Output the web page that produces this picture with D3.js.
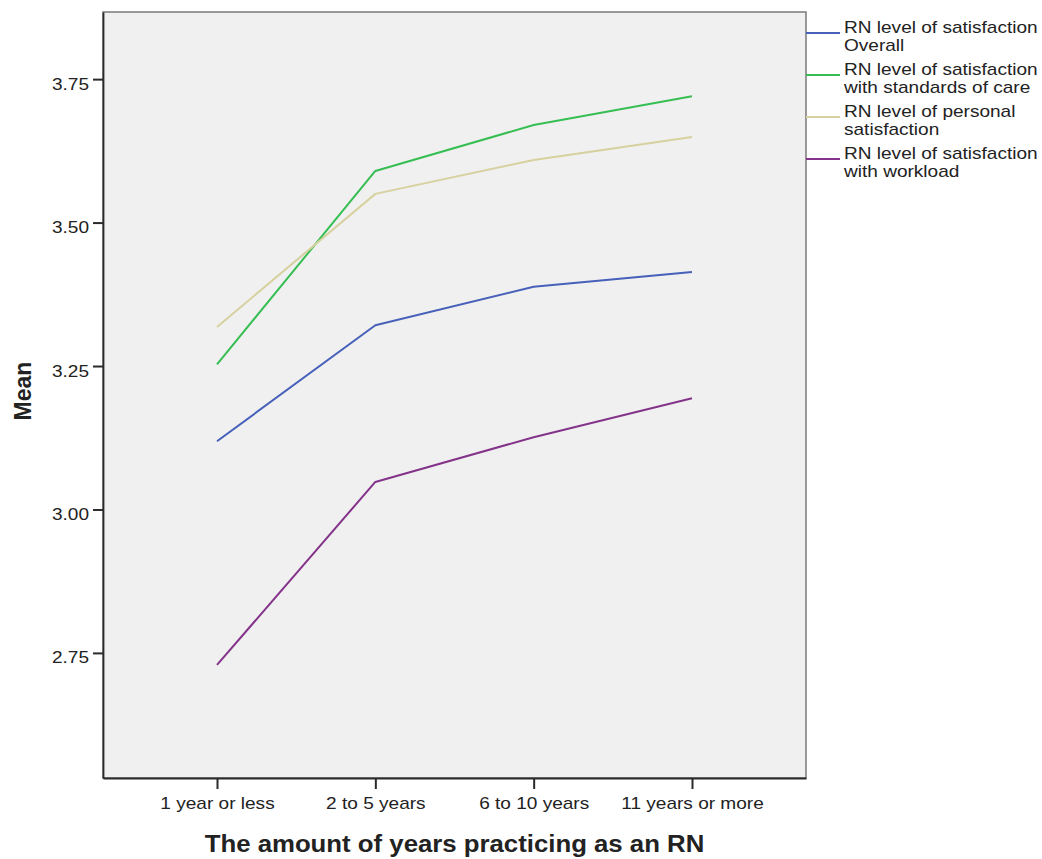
<!DOCTYPE html>
<html>
<head>
<meta charset="utf-8">
<script src="https://cdn.jsdelivr.net/npm/d3@7"></script>
<style>
  html, body { margin: 0; padding: 0; background: #ffffff; }
  svg { display: block; }
  text { font-family: "Liberation Sans", Arial, sans-serif; fill: #222; }
</style>
</head>
<body>
<svg id="chart" width="1042" height="859"></svg>
<script>
const categories = ["1 year or less", "2 to 5 years", "6 to 10 years", "11 years or more"];
const seriesNames = [
  ["RN level of satisfaction", "Overall"],
  ["RN level of satisfaction", "with standards of care"],
  ["RN level of personal", "satisfaction"],
  ["RN level of satisfaction", "with workload"]
];
const overall   = [3.119, 3.321, 3.388, 3.414];
const standards = [3.253, 3.590, 3.670, 3.720];
const personal  = [3.318, 3.550, 3.609, 3.649];
const workload  = [2.729, 3.048, 3.126, 3.194];
const seriesColors = ["#4760BA", "#36BE52", "#D6D19E", "#84338A"];
const yTicks = [2.75, 3.00, 3.25, 3.50, 3.75];
const yDomain = [2.532, 3.867];
const xTitle = "The amount of years practicing as an RN";
const yTitle = "Mean";

const series = [overall, standards, personal, workload];

const svg = d3.select("#chart");
const plot = { left: 103, right: 806, top: 12, bottom: 778 };
const STRETCH = 1.12;

function stretch(sel) {
  sel.each(function () {
    const len = this.getComputedTextLength();
    d3.select(this).attr("textLength", len * STRETCH).attr("lengthAdjust", "spacingAndGlyphs");
  });
}

const x = d3.scalePoint().domain(categories).range([plot.left, plot.right]).padding(0.72);
const y = d3.scaleLinear().domain(yDomain).range([plot.bottom, plot.top]);

// plot background + frame
svg.append("rect")
  .attr("x", plot.left).attr("y", plot.top)
  .attr("width", plot.right - plot.left).attr("height", plot.bottom - plot.top)
  .attr("fill", "#F0F0F0").attr("stroke", "#7a7a7a").attr("stroke-width", 1.5);

// lines
const line = d3.line().x((d, i) => x(categories[i])).y(d => y(d));
series.forEach((vals, k) => {
  svg.append("path").datum(vals)
    .attr("d", line)
    .attr("fill", "none")
    .attr("stroke", seriesColors[k])
    .attr("stroke-width", 2)
    .attr("stroke-linejoin", "round");
});

// y axis
const yAxis = svg.append("g").attr("transform", `translate(${plot.left},0)`)
  .call(d3.axisLeft(y).tickValues(yTicks).tickFormat(d3.format(".2f")).tickSize(10).tickPadding(4).tickSizeOuter(0));
yAxis.select(".domain").attr("stroke", "#2a2a2a").attr("stroke-width", 1.8);
yAxis.selectAll(".tick line").attr("stroke", "#2a2a2a").attr("stroke-width", 2);
yAxis.selectAll(".tick text").attr("font-size", 17).attr("dy", "0.59em")
  .attr("font-family", "Liberation Sans, Arial, sans-serif").attr("fill", "#222").call(stretch);

// x axis
const xAxis = svg.append("g").attr("transform", `translate(0,${plot.bottom})`)
  .call(d3.axisBottom(x).tickSize(11).tickPadding(8).tickSizeOuter(0));
xAxis.select(".domain").attr("stroke", "#2a2a2a").attr("stroke-width", 1.8);
xAxis.selectAll(".tick line").attr("stroke", "#2a2a2a").attr("stroke-width", 2);
xAxis.selectAll(".tick text").attr("font-size", 17)
  .attr("font-family", "Liberation Sans, Arial, sans-serif").attr("fill", "#222").call(stretch);

// axis titles
svg.append("text")
  .attr("x", (plot.left + plot.right) / 2).attr("y", 852)
  .attr("text-anchor", "middle").attr("font-size", 23).attr("font-weight", "bold")
  .attr("fill", "#111")
  .text(xTitle).call(stretch);

svg.append("text")
  .attr("transform", `translate(31,${(plot.top + plot.bottom) / 2 - 4}) rotate(-90)`)
  .attr("text-anchor", "middle").attr("font-size", 23).attr("font-weight", "bold")
  .attr("fill", "#111")
  .text(yTitle);

// legend
const legend = svg.append("g");
seriesNames.forEach((lines, k) => {
  const ly = 33 + k * 42;
  legend.append("line")
    .attr("x1", plot.right).attr("x2", 840)
    .attr("y1", ly).attr("y2", ly)
    .attr("stroke", seriesColors[k]).attr("stroke-width", 2);
  lines.forEach((t, j) => {
    legend.append("text")
      .attr("x", 844).attr("y", ly + j * 17.5)
      .attr("font-size", 17)
      .text(t).call(stretch);
  });
});
</script>
</body>
</html>
